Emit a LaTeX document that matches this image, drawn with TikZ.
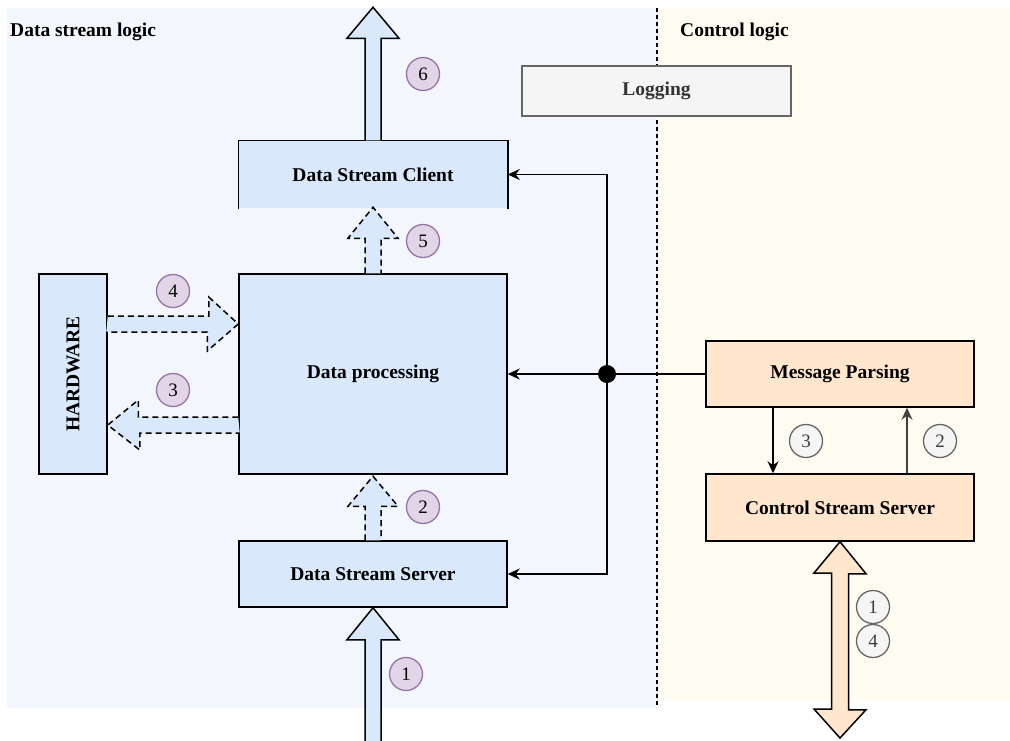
\documentclass[tikz,border=0pt]{standalone}
\usepackage{fontspec}
\setmainfont{Liberation Serif}
\usetikzlibrary{calc,arrows.meta}
\definecolor{bgL}{HTML}{F3F6FC}
\definecolor{bgR}{HTML}{FEFCF1}
\definecolor{blu}{HTML}{DAE8FC}
\definecolor{ora}{HTML}{FFE6CC}
\definecolor{purF}{HTML}{E1D5E7}
\definecolor{purD}{HTML}{9673A6}
\definecolor{gryF}{HTML}{F5F5F5}
\definecolor{gryD}{HTML}{666666}
\tikzset{
  lbl/.style={font=\fontsize{19.5}{22}\selectfont\bfseries},
  bbox/.style={draw=black, line width=1.5pt, fill=blu, minimum width=268pt, inner sep=0pt, lbl},
  obox/.style={draw=black, line width=1.5pt, fill=ora, minimum width=268pt, minimum height=66pt, inner sep=0pt, lbl},
  pnum/.style={circle, draw=purD, fill=purF, line width=1.3pt, minimum size=33pt, inner sep=0pt, font=\fontsize{19}{20}\selectfont},
  gnum/.style={circle, draw=gryD, fill=gryF, line width=1.3pt, minimum size=33pt, inner sep=0pt, font=\fontsize{19}{20}\selectfont, text=gryD!60!black},
  barr/.style={fill=blu, draw=black, line width=1.5pt, line join=miter},
  darr/.style={barr, dash pattern=on 6pt off 4pt},
  conn/.style={draw=black, line width=1.5pt, -{Stealth[length=12pt,width=11pt,inset=4pt]}},
}
\begin{document}
\begin{tikzpicture}[x=1pt,y=-1pt]
\useasboundingbox (0,0) rectangle (1010,740);
% backgrounds
\fill[bgL] (7,8) rectangle (657,708);
\fill[bgR] (657,8) rectangle (1010,700);
\draw[line width=1.6pt, dash pattern=on 4pt off 3pt] (657,8) -- (657,708);
\node[lbl, anchor=west, inner sep=0pt] (t1) at (10,32) {Data stream logic};
\node[lbl, anchor=west, inner sep=0pt] (t2) at (680,32) {Control logic};

% nodes
\node[draw=gryD, fill=gryF, line width=1.5pt, minimum width=269pt, minimum height=50pt, inner sep=0pt, lbl, text=black!80] (log) at (656.5,91) {Logging};
\node[bbox, draw=none, minimum height=67pt] (client) at (373,174.5) {Data Stream Client};
\draw[line width=1.5pt] (client.south west) -- (client.north west) -- (client.north east) -- (client.south east);
\node[bbox, minimum height=200pt] (proc) at (373,374) {Data processing};
\node[bbox, minimum width=68pt, minimum height=200pt] (hw) at (73,374) {};
\node[lbl, rotate=90] (hwt) at (hw.center) {HARDWARE};
\node[bbox, minimum height=66pt] (server) at (373,574) {Data Stream Server};
\node[obox] (msg) at (840,374) {Message Parsing};
\node[obox, minimum height=67pt] (css) at (840,507.5) {Control Stream Server};

% block arrows (data)
\filldraw[barr] ($(client.north)+(-8,0)$) -- ++(0,-102) -- ++(-18,0) -- ++(26,-31) -- ++(26,31) -- ++(-18,0) -- ++(0,102);
\filldraw[darr] ($(proc.north)+(-8,0)$) -- ++(0,-35) -- ++(-17,0) -- ++(25,-31) -- ++(25,31) -- ++(-17,0) -- ++(0,35);
\filldraw[darr] ($(server.north)+(-8,0)$) -- ++(0,-34) -- ++(-17,0) -- ++(25,-30) -- ++(25,30) -- ++(-17,0) -- ++(0,34);
\coordinate (in1) at (373,742);
\filldraw[barr] ($(in1)+(-8,0)$) -- ($(server.south)+(-8,32)$) -- ++(-18,0) -- (server.south) -- ($(server.south)+(26,32)$) -- ++(-18,0) -- ($(in1)+(8,0)$);
\filldraw[darr] ($(hw.east)+(0,-58)$) -- ++(101,0) -- ++(0,-19) -- ($(proc.west)+(0,-50)$) -- ++(-31,27) -- ++(0,-19) -- ++(-101,0);
\filldraw[darr] ($(proc.west)+(0,43)$) -- ++(-100,0) -- ++(0,-17) -- ($(hw.east)+(0,51)$) -- ++(32,25) -- ++(0,-17) -- ++(100,0);

% control double arrow
\coordinate (in2) at (840,738);
\filldraw[fill=ora, draw=black, line width=1.5pt] (css.south) -- ++(26,32) -- ++(-17.5,0) -- ++(0,136) -- ++(17.5,0) -- (in2) -- ++(-26,-29) -- ++(17.5,0) -- ++(0,-136) -- ++(-17.5,0) -- cycle;

% numbers
\node[pnum] (n6) at (423,74) {6};
\node[pnum] (n5) at (423,241) {5};
\node[pnum] (n4) at (173,291) {4};
\node[pnum] (n3) at (173,390) {3};
\node[pnum] (n2) at (423,507) {2};
\node[pnum] (n1) at (406,674) {1};
\node[gnum] (g3) at (806,441) {3};
\node[gnum] (g2) at (940,441) {2};
\node[gnum] (g1) at (873,607) {1};
\node[gnum] (g4) at (873,641) {4};

% connectors
\coordinate (dot) at (607,374);
\draw[line width=1.5pt] (msg.west) -- (dot);
\draw[conn] (dot) -- (proc.east);
\draw[conn] (dot) |- (client.east);
\draw[conn] (dot) |- (server.east);
\fill (dot) circle (9pt);
\draw[conn] ([xshift=-67pt]msg.south) -- ([xshift=-67pt]css.north);
\draw[conn, draw=black!75] ([xshift=67pt]css.north) -- ([xshift=67pt]msg.south);
\end{tikzpicture}
\end{document}
